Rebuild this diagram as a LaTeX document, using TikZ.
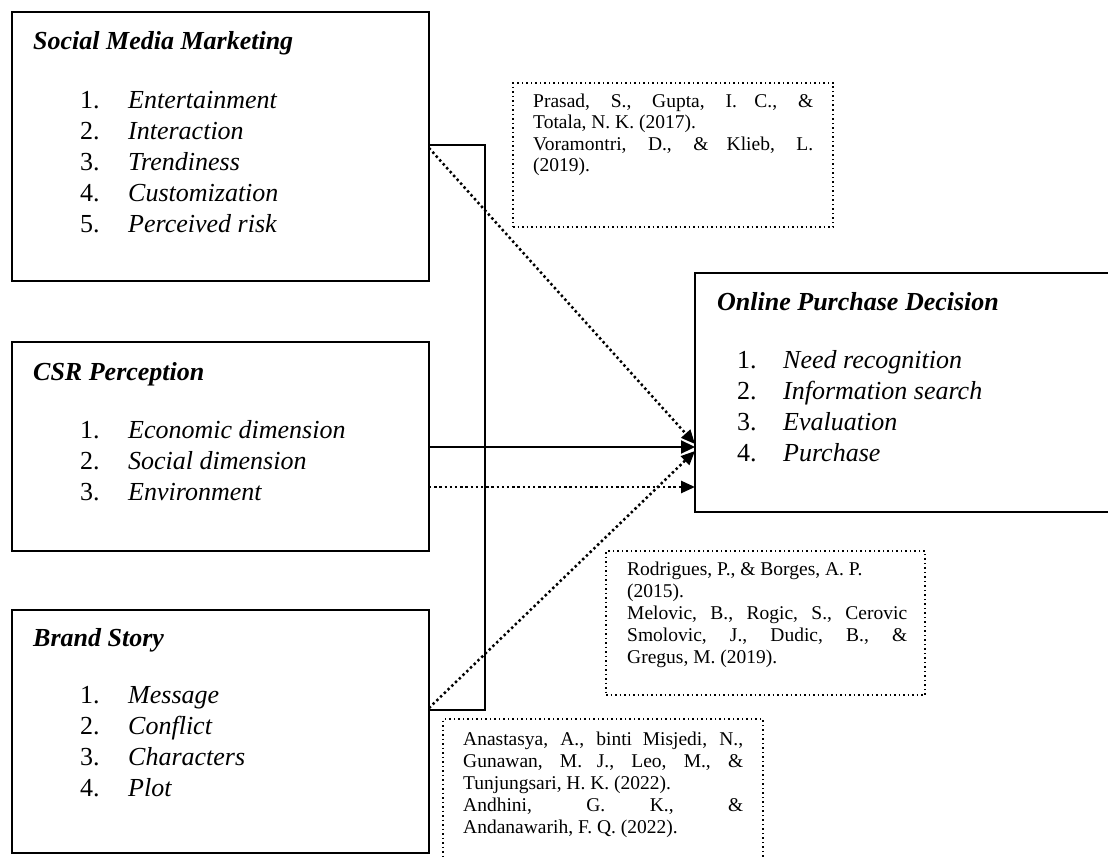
\documentclass[tikz,border=0pt]{standalone}
\usepackage{fontspec}
\setmainfont{Liberation Serif}
\usetikzlibrary{arrows.meta}
\newcommand\hdf{\fontsize{26}{30}\selectfont}
\newcommand\rff{\fontsize{19.5}{22}\selectfont}
\newlength\rw \setlength\rw{280pt}
\newcommand\jl[1]{\makebox[\rw][s]{#1}}
\begin{document}
\begin{tikzpicture}[x=1pt,y=-1pt,
  box/.style={draw,line width=2.6pt,inner sep=0pt,outer sep=0pt,anchor=north west},
  refbox/.style={draw,line width=1.5pt,dash pattern=on 1.5pt off 3pt,inner sep=0pt,outer sep=0pt,anchor=north west},
  ttl/.style={anchor=base west,inner sep=0pt,font=\hdf\bfseries\itshape},
  num/.style={anchor=base west,inner sep=0pt,font=\hdf},
  itm/.style={anchor=base west,inner sep=0pt,font=\hdf\itshape},
  rtx/.style={anchor=base west,inner sep=0pt,font=\rff},
  solidarr/.style={line width=2.2pt,-{Triangle[length=14pt,width=13pt]}},
  dotarr/.style={line width=2.5pt,dash pattern=on 2.4pt off 2.8pt,-{Triangle[length=14pt,width=12pt]}},
  bracketline/.style={line width=1.7pt}]
\useasboundingbox (0,0) rectangle (1108,859);
\fill[white] (0,0) rectangle (1108,859);
\clip (0,0) rectangle (1108,859);

% Social Media Marketing
\node[box,minimum width=417pt,minimum height=269pt] (smm) at (12,12) {};
\node[ttl] (smmT) at (33,50) {Social Media Marketing};
\foreach \t [count=\i, evaluate=\i as \yy using 108+31*(\i-1)] in {Entertainment,Interaction,Trendiness,Customization,Perceived risk}{
  \node[num] (smmn\i) at (80,\yy) {\i.};
  \node[itm] (smmi\i) at (128,\yy) {\t};
}

% CSR Perception
\node[box,minimum width=417pt,minimum height=209pt] (csr) at (12,342) {};
\node[ttl] (csrT) at (33,380) {CSR Perception};
\foreach \t [count=\i, evaluate=\i as \yy using 438+31*(\i-1)] in {Economic dimension,Social dimension,Environment}{
  \node[num] (csrn\i) at (80,\yy) {\i.};
  \node[itm] (csri\i) at (128,\yy) {\t};
}

% Brand Story
\node[box,minimum width=417pt,minimum height=243pt] (brand) at (12,610) {};
\node[ttl] (brT) at (33,646) {Brand Story};
\foreach \t [count=\i, evaluate=\i as \yy using 703+31*(\i-1)] in {Message,Conflict,Characters,Plot}{
  \node[num] (brn\i) at (80,\yy) {\i.};
  \node[itm] (bri\i) at (128,\yy) {\t};
}

% Online Purchase Decision
\node[box,minimum width=430pt,minimum height=239pt] (opd) at (695,273) {};
\node[ttl] (opdT) at (717,310) {Online Purchase Decision};
\foreach \t [count=\i, evaluate=\i as \yy using 368+31*(\i-1)] in {Need recognition,Information search,Evaluation,Purchase}{
  \node[num] (opdn\i) at (737,\yy) {\i.};
  \node[itm] (opdi\i) at (783,\yy) {\t};
}

% reference boxes
\node[refbox,minimum width=320pt,minimum height=144pt] (ref1) at (513,83) {};
\node[rtx] (r1a) at (533,107) {\jl{Prasad, S., Gupta, I. C., \&}};
\node[rtx] (r1b) at (533,128.5) {Totala, N. K. (2017).};
\node[rtx] (r1c) at (533,150) {\jl{Voramontri, D., \& Klieb, L.}};
\node[rtx] (r1d) at (533,171.5) {(2019).};

\node[refbox,minimum width=319pt,minimum height=144pt] (ref2) at (606,551) {};
\node[rtx] (r2a) at (627,575) {Rodrigues, P., \& Borges, A. P.};
\node[rtx] (r2b) at (627,597) {(2015).};
\node[rtx] (r2c) at (627,619) {\jl{Melovic, B., Rogic, S., Cerovic}};
\node[rtx] (r2d) at (627,641) {\jl{Smolovic, J., Dudic, B., \&}};
\node[rtx] (r2e) at (627,663) {Gregus, M. (2019).};

\node[refbox,minimum width=320pt,minimum height=200pt] (ref3) at (443,719) {};
\node[rtx] (r3a) at (463,745) {\jl{Anastasya, A., binti Misjedi, N.,}};
\node[rtx] (r3b) at (463,767) {\jl{Gunawan, M. J., Leo, M., \&}};
\node[rtx] (r3c) at (463,789) {Tunjungsari, H. K. (2022).};
\node[rtx] (r3d) at (463,811) {\jl{Andhini, G. K., \&}};
\node[rtx] (r3e) at (463,833) {Andanawarih, F. Q. (2022).};

% bracket
\coordinate (bk) at (485,0);
\draw[bracketline] (smm.east |- 0,145) -| (bk |- 0,710) -- (brand.east |- 0,710);

% connectors
\draw[solidarr] (csr.east |- 0,447) -- (opd.west |- 0,447);
\draw[dotarr] (csr.east |- 0,487) -- (opd.west |- 0,487);
\draw[dotarr] (smm.east |- 0,148) -- (opd.west |- 0,444);
\draw[dotarr] (brand.east |- 0,708) -- (opd.west |- 0,451);
\end{tikzpicture}
\end{document}
